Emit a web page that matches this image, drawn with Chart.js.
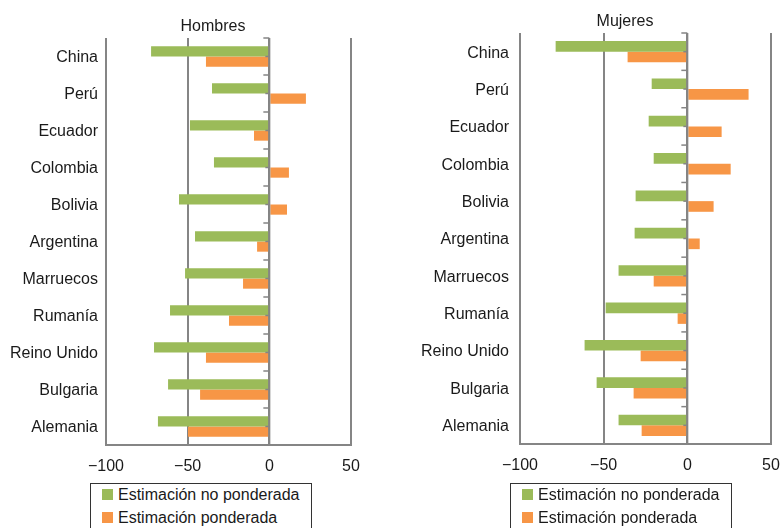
<!DOCTYPE html>
<html><head><meta charset="utf-8">
<script src="https://cdn.jsdelivr.net/npm/chart.js@4"></script>
<style>
html,body{margin:0;padding:0;background:#fff;width:780px;height:528px;overflow:hidden;position:relative;}
.wrap{position:absolute;top:0;width:390px;height:485px;}
.legend{position:absolute;top:483px;width:222px;height:60px;border:1px solid #333;box-sizing:border-box;background:#fff;
  font-family:"Liberation Sans",Arial,sans-serif;font-size:16px;color:#1a1a1a;}
.item{position:absolute;left:11px;white-space:nowrap;height:20px;line-height:20px;}
.sw{position:absolute;left:0;top:4px;width:11px;height:11px;}
.txt{position:absolute;left:16px;top:0;}
</style>
</head><body>
<div class="wrap" style="left:0"><canvas id="c1" width="390" height="485"></canvas></div>
<div class="wrap" style="left:390px"><canvas id="c2" width="390" height="485"></canvas></div>
<div class="legend" id="l1" style="left:90px"></div>
<div class="legend" id="l2" style="left:510px"></div>
<script>
const categories = ['China','Perú','Ecuador','Colombia','Bolivia','Argentina','Marruecos','Rumanía','Reino Unido','Bulgaria','Alemania'];
const seriesNames = ['Estimación no ponderada','Estimación ponderada'];
const hombresNoPond = [-72.4,-35.1,-48.6,-33.9,-55.3,-45.5,-51.6,-60.8,-70.6,-62.0,-68.2];
const hombresPond   = [-38.8, 22.4, -9.4, 12.0, 10.8, -7.5,-16.1,-24.7,-38.8,-42.4,-49.8];
const mujeresNoPond = [-78.7,-21.3,-23.1,-20.1,-30.9,-31.5,-41.1,-48.8,-61.4,-54.2,-41.1];
const mujeresPond   = [-35.7, 36.6, 20.5, 25.9, 15.7,  7.4,-20.1, -5.8,-27.9,-32.1,-27.3];
const xMin = -100, xMax = 50, xStep = 50;

const GREEN = '#9BBB59', ORANGE = '#F79646', GRID = '#858585', TEXT = '#1a1a1a';
const FONT = '"Liberation Sans", Arial, sans-serif';

const zeroLine = {
  id: 'zeroLine',
  afterDatasetsDraw(chart) {
    const ctx = chart.ctx, a = chart.chartArea;
    const x = chart.scales.x.getPixelForValue(0);
    const n = chart.data.labels.length;
    const step = (a.bottom - a.top) / n;
    ctx.save();
    ctx.strokeStyle = GRID; ctx.lineWidth = 2;
    ctx.beginPath(); ctx.moveTo(x, a.top); ctx.lineTo(x, a.bottom); ctx.stroke();
    ctx.lineWidth = 1.5;
    for (let i = 0; i <= n; i++) {
      const y = a.top + i * step;
      ctx.beginPath(); ctx.moveTo(x - 6, y); ctx.lineTo(x, y); ctx.stroke();
      if (i < n) {
        const yc = y + step / 2;
        ctx.beginPath(); ctx.moveTo(x - 4, yc); ctx.lineTo(x, yc); ctx.stroke();
      }
    }
    ctx.restore();
  }
};

const titleShift = {
  id: 'titleShift',
  afterLayout(chart, args, opts) {
    const t = chart.titleBlock;
    if (!t) return;
    const w = t.right - t.left;
    t.left = opts.center - w / 2;
    t.right = opts.center + w / 2;
  }
};

function makeChart(id, legendId, title, d1, d2, g) {
  const chart = new Chart(document.getElementById(id), {
    type: 'bar',
    data: {
      labels: categories,
      datasets: [
        {label: seriesNames[0], data: d1, backgroundColor: GREEN, borderWidth: 0},
        {label: seriesNames[1], data: d2, backgroundColor: ORANGE, borderWidth: 0}
      ]
    },
    options: {
      indexAxis: 'y',
      responsive: false,
      animation: false,
      devicePixelRatio: 1,
      categoryPercentage: g.cat,
      barPercentage: 1,
      layout: {padding: {left: 0, right: g.padRight, top: 0, bottom: 0}},
      plugins: {
        legend: {display: false},
        tooltip: {enabled: false},
        titleShift: {center: g.titleCenter},
        title: {display: true, text: title, color: TEXT,
          font: {family: FONT, size: 16, weight: 'normal', lineHeight: 1.2},
          padding: {top: g.titleTop, bottom: g.titleBottom}}
      },
      scales: {
        x: {
          min: xMin, max: xMax,
          ticks: {stepSize: xStep, color: TEXT, padding: 12,
            font: {family: FONT, size: 16},
            callback: v => String(v).replace('-', '\u2212')},
          grid: {color: GRID, lineWidth: 2, drawTicks: false},
          border: {display: true, color: GRID, width: 2},
          afterFit: s => { s.height = g.xHeight; s.paddingLeft = 0; s.paddingRight = 0; }
        },
        y: {
          ticks: {color: TEXT, padding: g.labelPad, labelOffset: 1.5, font: {family: FONT, size: 16}},
          grid: {display: false, drawTicks: false},
          border: {display: false},
          afterFit: s => { s.width = g.yWidth; s.paddingTop = 0; s.paddingBottom = 0; }
        }
      }
    },
    plugins: [zeroLine, titleShift]
  });
  const lg = document.getElementById(legendId);
  chart.data.datasets.forEach((ds, i) => {
    const it = document.createElement('div');
    it.className = 'item';
    it.style.top = (1 + i * 23) + 'px';
    it.innerHTML = '<span class="sw" style="background:' + ds.backgroundColor + '"></span><span class="txt"></span>';
    it.querySelector('.txt').textContent = ds.label;
    lg.appendChild(it);
  });
  return chart;
}

makeChart('c1', 'l1', 'Hombres', hombresNoPond, hombresPond,
  {cat: 0.55, padRight: 39, yWidth: 106, titleCenter: 213, titleTop: 16.5, titleBottom: 2.3, xHeight: 40, labelPad: 8});
makeChart('c2', 'l2', 'Mujeres', mujeresNoPond, mujeresPond,
  {cat: 0.57, padRight: 9, yWidth: 130, titleCenter: 235, titleTop: 11.5, titleBottom: 2.3, xHeight: 41, labelPad: 11});
</script>
</body></html>
